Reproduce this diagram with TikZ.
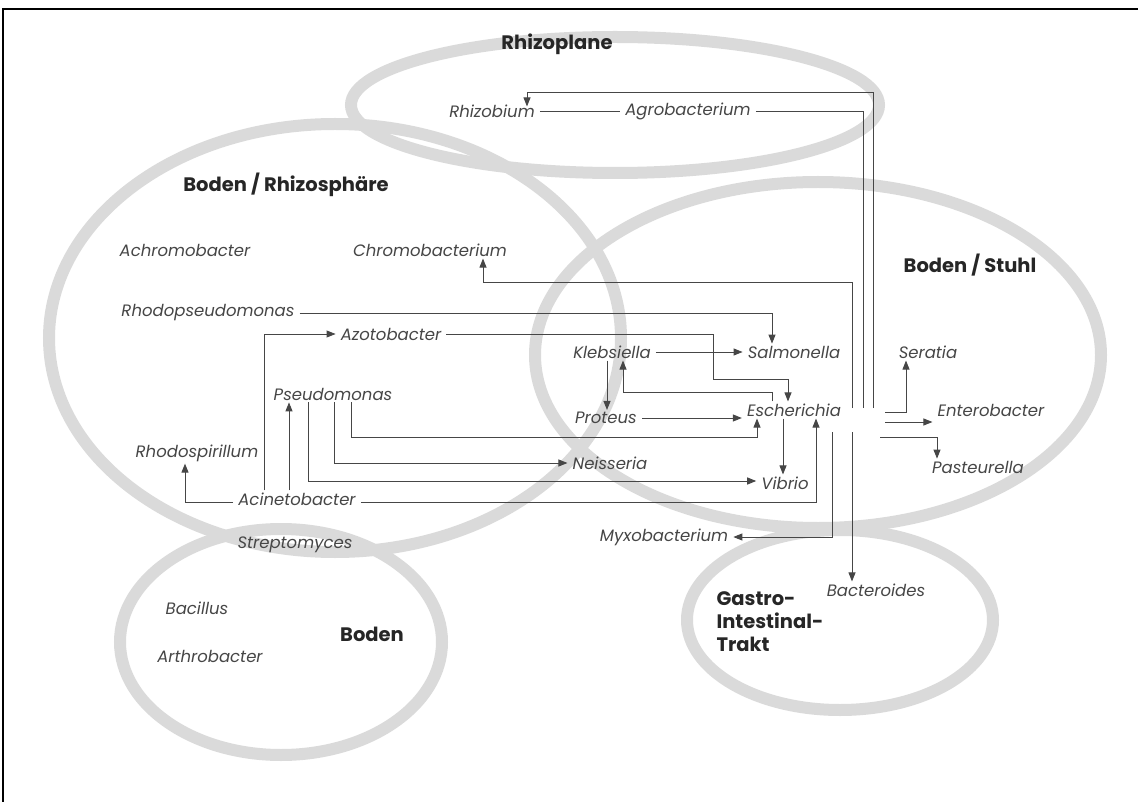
\documentclass[tikz,border=0pt]{standalone}
\usepackage{fontspec}
\setmainfont{Poppins}
\usetikzlibrary{arrows.meta}
\definecolor{ringgray}{RGB}{218,218,218}
\definecolor{linkgray}{RGB}{70,70,70}
\tikzset{
	ring/.style={draw=ringgray, line width=12pt},
	bac/.style={font=\fontsize{16.5}{19}\selectfont\itshape, text=linkgray, inner xsep=5pt, inner ysep=2pt},
	habitat/.style={font=\fontsize{19.5}{23}\selectfont\bfseries, text=black!85, align=left},
	link/.style={draw=linkgray, line width=0.9pt},
	arr/.style={link, -{Triangle[length=9pt,width=7pt]}},
}

\begin{document}
\begin{tikzpicture}[x=1pt, y=-1pt]
		\useasboundingbox (0,0) rectangle (1138,802);
		\draw[line width=1.6pt] (3,802) -- (3,9) -- (1138,9);
		\draw[ring] (615,105) ellipse (264 and 68);
		\draw[ring] (335,338) ellipse (286 and 214);
		\draw[ring] (818,355) ellipse (283 and 173);
		\draw[ring] (281,642) ellipse (161 and 113);
		\draw[ring] (840,620) ellipse (153 and 90);

		\node[habitat] (rhizoplane) at (557,44) {Rhizoplane};
		\node[habitat] (rhizosph) at (286,185) {Boden / Rhizosphäre};
		\node[habitat] (stuhl) at (970,265) {Boden / Stuhl};
		\node[habitat] (boden) at (372,634) {Boden};
		\node[habitat, anchor=west] (gastro) at (713,622) {Gastro-\\Intestinal-\\Trakt};

		\node[bac] (rhizob) at (492,111) {Rhizobium};
		\node[bac] (agro) at (688,111) {Agrobacterium};
		\node[bac] (achromo) at (185,250) {Achromobacter};
		\node[bac] (chromo) at (430,250) {Chromobacterium};
		\node[bac] (rhodo) at (208,313) {Rhodopseudomonas};
		\node[bac] (azoto) at (391,334) {Azotobacter};
		\node[bac] (pseudo) at (333,394) {Pseudomonas};
		\node[bac] (rhodosp) at (197,453) {Rhodospirillum};
		\node[bac] (acin) at (297,499) {Acinetobacter};
		\node[bac] (strepto) at (295,545) {Streptomyces};
		\node[bac] (bacil) at (197,608) {Bacillus};
		\node[bac] (arthro) at (210,656) {Arthrobacter};
		\node[bac] (kleb) at (612,352) {Klebsiella};
		\node[bac] (salm) at (794,352) {Salmonella};
		\node[bac] (proteus) at (606,418) {Proteus};
		\node[bac] (esch) at (794,410) {Escherichia};
		\node[bac] (neiss) at (610,463) {Neisseria};
		\node[bac] (vibrio) at (785,483) {Vibrio};
		\node[bac] (myxo) at (664,537) {Myxobacterium};
		\node[bac] (bacter) at (876,590) {Bacteroides};
		\node[bac] (serat) at (928,352) {Seratia};
		\node[bac] (entero) at (991,410) {Enterobacter};
		\node[bac] (pasteur) at (978,467) {Pasteurella};

		\coordinate (hubC) at (852,408);
		\coordinate (hubA) at (863,408);
		\coordinate (hubR) at (873,408);
		\coordinate (hubM) at (832,432);
		\coordinate (hubB) at (852,432);
		\coordinate (hubS) at (885,412);
		\coordinate (hubE) at (885,422);
		\coordinate (hubP) at (880,437);

		\draw[link] (rhizob) -- (agro);
		\draw[link] (agro.east) -| (hubA);
		\draw[arr] (hubR) -- (873,92) -| ([xshift=35pt,yshift=-4pt]rhizob.north);
		\draw[arr] (hubC) -- (852,282) -| ([xshift=53pt]chromo.south);
		\draw[arr] (rhodo.east) -| ([xshift=-22pt]salm.north);
		\draw[arr] (azoto.east) -| (713,379) -| ([xshift=-6pt]esch.north);
		\draw[arr] ([xshift=-33pt]acin.north) |- (azoto.west);
		\draw[arr] ([xshift=-8pt]acin.north) -- ([xshift=-44pt]pseudo.south);
		\draw[arr] ([xshift=18pt]pseudo.south) |- (757,437) -- ([xshift=-37pt]esch.south);
		\draw[arr] ([xshift=1pt]pseudo.south) |- (neiss.west);
		\draw[arr] ([xshift=-25pt]pseudo.south) |- ([yshift=2pt]vibrio.west);
		\draw[arr] ([yshift=-3pt]acin.east) -| ([xshift=22pt]esch.south);
		\draw[arr] ([yshift=-3pt]acin.west) -| ([xshift=-12pt]rhodosp.south);
		\draw[arr] (kleb) -- (salm);
		\draw[arr] ([xshift=-5pt]kleb.south) -- ([xshift=1pt]proteus.north);
		\draw[arr] (proteus) -- (proteus -| esch.west);
		\draw[arr] ([xshift=-22pt]esch.north) -- ++(0,-9) -| ([xshift=11pt]kleb.south);
		\draw[arr] ([xshift=-11pt]esch.south) -- ([xshift=-2pt]vibrio.north);
		\draw[arr] (hubM) |- (myxo.east);
		\draw[arr] (hubB) -- ([xshift=-24pt]bacter.north);
		\draw[arr] (hubS) -| ([xshift=-22pt]serat.south);
		\draw[arr] (hubE) -- ([yshift=-12pt]entero.west);
		\draw[arr] (hubP) -| ([xshift=-41pt]pasteur.north);
\end{tikzpicture}
\end{document}
